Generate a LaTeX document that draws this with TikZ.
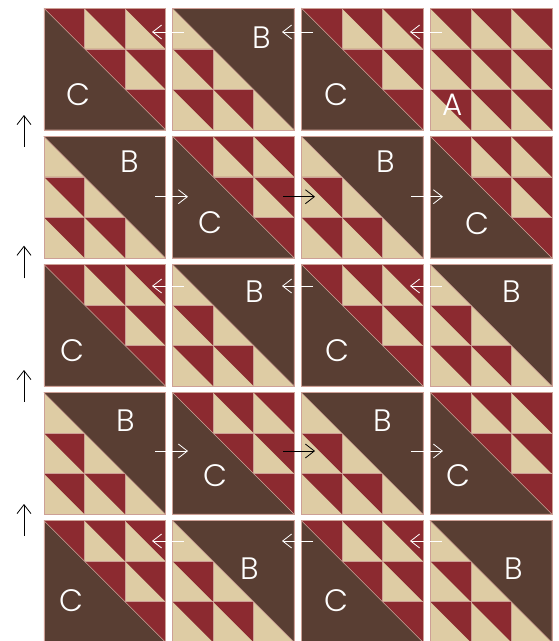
\documentclass[tikz,border=0pt]{standalone}
\usepackage{fontspec}
\newfontfamily\lblfont{Poppins Light}
\usetikzlibrary{arrows.meta}

\definecolor{quiltred}{RGB}{140,42,48}
\definecolor{quilttan}{RGB}{222,204,164}
\definecolor{quiltbrown}{RGB}{89,62,51}
\definecolor{seamcol}{RGB}{205,160,150}

\tikzset{
  seam/.style={draw=seamcol, line width=0.5pt},
  lbl/.style={text=white, inner sep=0pt, font=\lblfont\fontsize{31}{31}\selectfont},
  warr/.style={white, line width=0.8pt, -{Straight Barb[length=9pt,width=14pt]}},
  karr/.style={warr, black},
}

% block of 3x3 half-square triangles; #3: 0 = none, 1 = brown lower left, 2 = brown upper right
\newcommand{\quiltblock}[3]{%
  \begin{scope}[shift={(#1,#2)}]
    \foreach \ri in {0,1,2} {
      \foreach \ci in {0,1,2} {
        \fill[quilttan] (\ci*40.5,\ri*40.5) rectangle ++(40.5,40.5);
        \fill[quiltred] (\ci*40.5,\ri*40.5) -- ++(40.5,0) -- ++(0,40.5) -- cycle;
        \draw[seam] (\ci*40.5,\ri*40.5) rectangle ++(40.5,40.5);
      }
    }
    \ifnum#3=1 \filldraw[fill=quiltbrown, seam] (0,0) -- (0,121.5) -- (121.5,121.5) -- cycle; \fi
    \ifnum#3=2 \filldraw[fill=quiltbrown, seam] (0,0) -- (121.5,0) -- (121.5,121.5) -- cycle; \fi
    \draw[seam] (0,0) rectangle (121.5,121.5);
  \end{scope}}

\begin{document}
\begin{tikzpicture}[x=1pt,y=-1pt]
  \useasboundingbox (0,0) rectangle (558,641);

  % row 1
  \quiltblock{44}{8.3}{1}
  \quiltblock{172.7}{8.3}{2}
  \quiltblock{301.5}{8.3}{1}
  \quiltblock{430.3}{8.3}{0}
  % row 2
  \quiltblock{44}{136.4}{2}
  \quiltblock{172.7}{136.4}{1}
  \quiltblock{301.5}{136.4}{2}
  \quiltblock{430.3}{136.4}{1}
  % row 3
  \quiltblock{44}{264.5}{1}
  \quiltblock{172.7}{264.5}{2}
  \quiltblock{301.5}{264.5}{1}
  \quiltblock{430.3}{264.5}{2}
  % row 4
  \quiltblock{44}{392.6}{2}
  \quiltblock{172.7}{392.6}{1}
  \quiltblock{301.5}{392.6}{2}
  \quiltblock{430.3}{392.6}{1}
  % row 5
  \quiltblock{44}{520.7}{1}
  \quiltblock{172.7}{520.7}{2}
  \quiltblock{301.5}{520.7}{1}
  \quiltblock{430.3}{520.7}{2}

  % labels
  \node[lbl] (lab11) at (78,95) {C};
  \node[lbl] (lab12) at (262,38) {B};
  \node[lbl] (lab13) at (336,95) {C};
  \node[lbl] (lab14) at (453,105) {A};
  \node[lbl] (lab21) at (130,162) {B};
  \node[lbl] (lab22) at (210,223) {C};
  \node[lbl] (lab23) at (386,162) {B};
  \node[lbl] (lab24) at (477,224) {C};
  \node[lbl] (lab31) at (72,351) {C};
  \node[lbl] (lab32) at (255,292) {B};
  \node[lbl] (lab33) at (337,351) {C};
  \node[lbl] (lab34) at (512,292) {B};
  \node[lbl] (lab41) at (126,421) {B};
  \node[lbl] (lab42) at (215,476) {C};
  \node[lbl] (lab43) at (383,421) {B};
  \node[lbl] (lab44) at (458,476) {C};
  \node[lbl] (lab51) at (71,601) {C};
  \node[lbl] (lab52) at (250,569) {B};
  \node[lbl] (lab53) at (336,601) {C};
  \node[lbl] (lab54) at (514,569) {B};

  % arrows to the left, rows 1, 3, 5
  \foreach \y/\r in {32/1, 286/3, 541/5} {
    \coordinate (l\r a) at (184,\y);  \coordinate (l\r b) at (152,\y);
    \coordinate (l\r c) at (313,\y);  \coordinate (l\r d) at (282,\y);
    \coordinate (l\r e) at (442,\y);  \coordinate (l\r f) at (410,\y);
    \draw[warr] (l\r a) -- (l\r b);
    \draw[warr] (l\r c) -- (l\r d);
    \draw[warr] (l\r e) -- (l\r f);
  }
  % arrows to the right, rows 2, 4
  \foreach \y/\r in {196.7/2, 451/4} {
    \coordinate (r\r a) at (155,\y);  \coordinate (r\r b) at (188,\y);
    \coordinate (r\r c) at (283,\y);  \coordinate (r\r d) at (315,\y);
    \coordinate (r\r e) at (411,\y);  \coordinate (r\r f) at (443,\y);
    \draw[warr] (r\r a) -- (r\r b);
    \draw[karr] (r\r c) -- (r\r d);
    \draw[warr] (r\r e) -- (r\r f);
  }
  % arrows up, left margin
  \foreach \t/\h/\k in {146.7/115/1, 278.3/245.7/2, 401.7/370/3, 535.7/504/4} {
    \coordinate (u\k a) at (24,\t);  \coordinate (u\k b) at (24,\h);
    \draw[karr] (u\k a) -- (u\k b);
  }
\end{tikzpicture}
\end{document}
